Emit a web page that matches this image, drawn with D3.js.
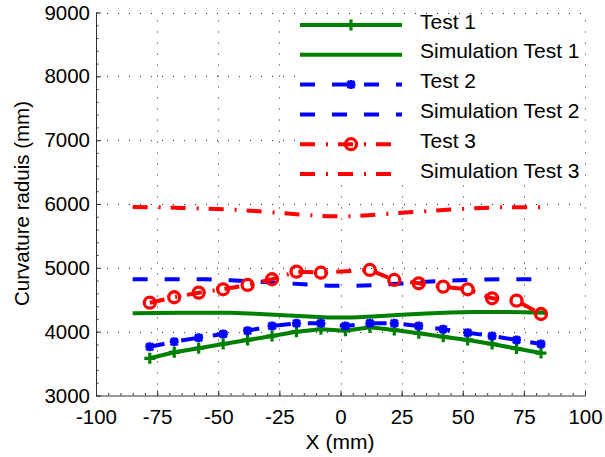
<!DOCTYPE html>
<html>
<head>
<meta charset="utf-8">
<script src="https://cdn.jsdelivr.net/npm/d3@7"></script>
<style>
  html, body { margin: 0; padding: 0; background: #fff; }
  svg { display: block; }
  text { font-family: "Liberation Sans", Arial, Helvetica, sans-serif; fill: #000; }
</style>
</head>
<body>
<svg id="chart" width="605" height="457"></svg>
<script>
// ---------------- data ----------------
const xTicks = [-100, -75, -50, -25, 0, 25, 50, 75, 100];
const xTickLabels = ["-100", "-75", "-50", "-25", "0", "25", "50", "75", "100"];
const yTicks = [3000, 4000, 5000, 6000, 7000, 8000, 9000];
const yTickLabels = ["3000", "4000", "5000", "6000", "7000", "8000", "9000"];

const testX = [-78, -68, -58, -48, -38, -28, -18, -8, 2, 12, 22, 32, 42, 52, 62, 72, 82];
const test1 = [3583, 3677, 3740, 3807, 3870, 3932, 4000, 4037, 4015, 4069, 4026, 3975, 3921, 3870, 3807, 3735, 3665];
const test2 = [3765, 3843, 3906, 3964, 4015, 4089, 4131, 4131, 4089, 4131, 4131, 4089, 4037, 3984, 3932, 3870, 3807];

const test3X = [-78, -68, -58, -48, -38, -28, -18, -8, 12, 22, 32, 42, 52, 62, 72, 82];
const test3 = [4454, 4539, 4611, 4664, 4732, 4821, 4940, 4924, 4967, 4810, 4758, 4705, 4664, 4523, 4486, 4277];

const simX = [-85, -75, -65, -55, -45, -35, -25, -15, -5, 5, 15, 25, 35, 45, 55, 65, 75, 84];
const sim1 = [4288, 4293, 4297, 4298, 4295, 4282, 4262, 4240, 4222, 4222, 4243, 4265, 4285, 4300, 4308, 4310, 4305, 4297];
const sim2 = [4822, 4822, 4822, 4820, 4805, 4785, 4765, 4742, 4720, 4718, 4730, 4755, 4782, 4802, 4815, 4822, 4822, 4822];
const sim3 = [5952, 5950, 5938, 5928, 5915, 5890, 5860, 5830, 5808, 5810, 5832, 5862, 5888, 5912, 5935, 5948, 5950, 5950];

const legendLabels = ["Test 1", "Simulation Test 1", "Test 2", "Simulation Test 2", "Test 3", "Simulation Test 3"];

// ---------------- layout ----------------
const svg = d3.select("#chart");
const W = 605, H = 457;
const mLeft = 96, mRight = 585, mTop = 12.5, mBottom = 395.5;
const x = d3.scaleLinear().domain([-100, 100]).range([mLeft, mRight]);
const y = d3.scaleLinear().domain([3000, 9000]).range([mBottom, mTop]);

const GREEN = "#008000", BLUE = "#0000ff", RED = "#ff0000";
const FS = 20.5, LFS = 21;

svg.append("rect").attr("width", W).attr("height", H).attr("fill", "#fff");

// grid
const grid = svg.append("g").attr("stroke", "#222").attr("stroke-width", 1)
  .attr("stroke-dasharray", "1,10").attr("fill", "none");
grid.selectAll("line.v").data(xTicks.slice(1)).join("line").attr("class", "v")
  .attr("x1", d => Math.round(x(d)) + 0.5).attr("x2", d => Math.round(x(d)) + 0.5)
  .attr("y1", mBottom).attr("y2", mTop);
grid.selectAll("line.h").data(yTicks.slice(1)).join("line").attr("class", "h")
  .attr("y1", d => Math.round(y(d)) + 0.5).attr("y2", d => Math.round(y(d)) + 0.5)
  .attr("x1", mLeft).attr("x2", mRight);

// axes
const axisColor = "#333";
const gx = svg.append("g").attr("transform", `translate(0,${mBottom})`)
  .call(d3.axisBottom(x).tickValues(xTicks).tickSize(-5).tickSizeOuter(0).tickPadding(14)
    .tickFormat((d, i) => xTickLabels[i]));
const gxm = svg.append("g").attr("transform", `translate(0,${mBottom})`)
  .call(d3.axisBottom(x).tickValues(d3.range(-100, 101, 5)).tickSize(-2.5).tickSizeOuter(0).tickFormat(""));
gxm.select(".domain").remove();
const gy = svg.append("g").attr("transform", `translate(${mLeft},0)`)
  .call(d3.axisLeft(y).tickValues(yTicks).tickSize(-5).tickSizeOuter(0).tickPadding(6)
    .tickFormat((d, i) => yTickLabels[i]));
const gym = svg.append("g").attr("transform", `translate(${mLeft},0)`)
  .call(d3.axisLeft(y).tickValues(d3.range(3000, 9001, 200)).tickSize(-2.5).tickSizeOuter(0).tickFormat(""));
gym.select(".domain").remove();
[gx, gxm, gy, gym].forEach(g => {
  g.selectAll("path, line").attr("stroke", axisColor).attr("stroke-width", 1);
  g.selectAll("text").attr("font-size", FS).attr("fill", "#000")
    .attr("font-family", "Liberation Sans, Arial, sans-serif");
});

// axis titles
svg.append("text").attr("x", 340).attr("y", 449).attr("text-anchor", "middle")
  .attr("font-size", LFS).text("X (mm)");
svg.append("text").attr("transform", "translate(29,203.5) rotate(-90)")
  .attr("text-anchor", "middle").attr("font-size", FS).text("Curvature raduis (mm)");

// ---------------- series ----------------
const line = d3.line().x(d => x(d[0])).y(d => y(d[1]));
const LW = 4;
const DASH = "15,17";
const DASHDOT = "15,11,2,10";

function markerPath(type) {
  if (type === "plus") return "M-5.5,0H5.5M0,-5.5V5.5";
  if (type === "star") return "M-4.5,0H4.5M0,-4.5V4.5M-3.5,-3.5L3.5,3.5M-3.5,3.5L3.5,-3.5";
  return null;
}
function drawMarker(g, type, color, px, py) {
  if (type === "circle") {
    g.append("circle").attr("cx", px).attr("cy", py).attr("r", 5.5)
      .attr("fill", "none").attr("stroke", color).attr("stroke-width", 3.3);
  } else {
    g.append("path").attr("d", markerPath(type)).attr("transform", `translate(${px},${py})`)
      .attr("fill", "none").attr("stroke", color)
      .attr("stroke-width", type === "plus" ? 3.2 : 2.8);
  }
}

const series = [
  { xs: testX, ys: test1, color: GREEN, dash: null, marker: "plus" },
  { xs: simX, ys: sim1, color: GREEN, dash: null, marker: null },
  { xs: testX, ys: test2, color: BLUE, dash: DASH, marker: "star" },
  { xs: simX, ys: sim2, color: BLUE, dash: DASH, marker: null },
  { xs: test3X, ys: test3, color: RED, dash: DASHDOT, marker: "circle" },
  { xs: simX, ys: sim3, color: RED, dash: DASHDOT, marker: null }
];

const plot = svg.append("g");
series.forEach(s => {
  const pts = s.xs.map((v, i) => [v, s.ys[i]]);
  plot.append("path").attr("d", line(pts)).attr("fill", "none")
    .attr("stroke", s.color).attr("stroke-width", LW)
    .attr("stroke-dasharray", s.dash).attr("stroke-linejoin", "round");
  if (s.marker) {
    const mg = plot.append("g");
    pts.forEach(p => drawMarker(mg, s.marker, s.color, x(p[0]), y(p[1])));
  }
});

// ---------------- legend ----------------
const lg = svg.append("g");
lg.append("rect").attr("x", 296).attr("y", 14).attr("width", 287).attr("height", 165).attr("fill", "#fff");
const lx1 = 300, lx2 = 402, rowY0 = 25, rowH = 29.8;
series.forEach((s, i) => {
  const ly = rowY0 + i * rowH;
  lg.append("line").attr("x1", lx1).attr("x2", lx2).attr("y1", ly).attr("y2", ly)
    .attr("stroke", s.color).attr("stroke-width", LW).attr("stroke-dasharray", s.dash);
  if (s.marker) drawMarker(lg, s.marker, s.color, (lx1 + lx2) / 2, ly);
  lg.append("text").attr("x", 420).attr("y", ly + 3.5).attr("font-size", LFS).text(legendLabels[i]);
});
</script>
</body>
</html>
